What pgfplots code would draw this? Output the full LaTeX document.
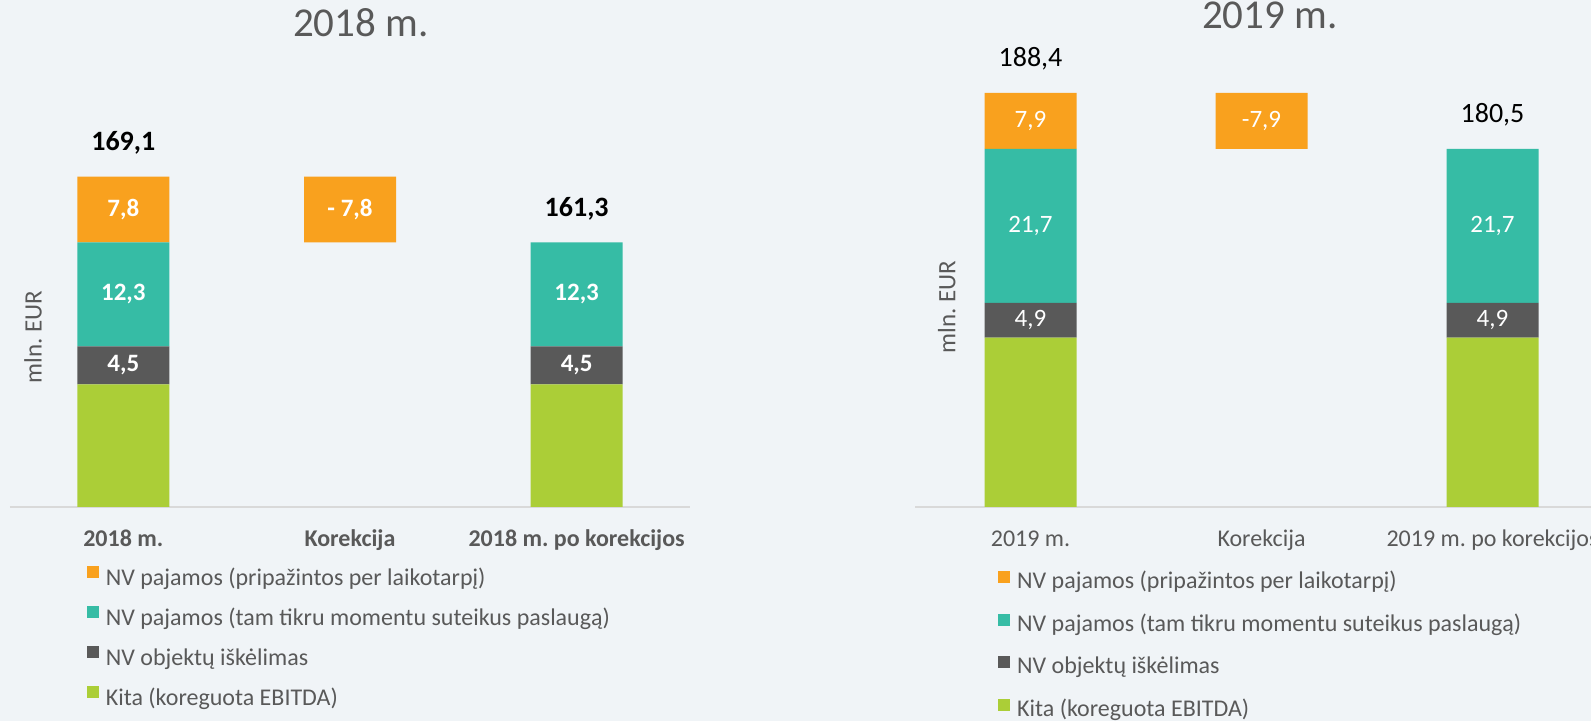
\documentclass[border=0pt]{standalone}
\usepackage{pgfplots}
\pgfplotsset{compat=1.18}
\usepackage{fontspec}
\setmainfont{Carlito}
\frenchspacing

\definecolor{bg}{HTML}{F0F4F7}
\definecolor{cOrange}{HTML}{F9A11E}
\definecolor{cTeal}{HTML}{36BCA5}
\definecolor{cDark}{HTML}{595959}
\definecolor{cGreen}{HTML}{ABCE37}
\definecolor{axgray}{HTML}{D9D9D9}
\definecolor{txt}{HTML}{595959}

% 1 px of the reference = 0.5pt
\pgfplotsset{
  panel/.style={
    anchor=south west, scale only axis,
    height=223.5pt, xmin=-0.5, xmax=2.5, ymin=130,
  },
  bars/.style={
    panel, ybar stacked, bar width=46pt,
    axis x line*=bottom, axis y line=none,
    x axis line style={draw=axgray, line width=1pt},
    xtick={0,1,2}, major tick length=0pt, xtick style={draw=none},
    xticklabel style={text=txt, anchor=base, yshift=-20pt},
    title style={text=txt, font=\fontsize{20.5}{24}\selectfont, anchor=center},
    legend cell align=left,
    reverse legend,
    legend image code/.code={\fill[##1,draw=none] (0pt,-0.5pt) rectangle (6pt,5.5pt);},
    legend style={draw=none, fill=none, anchor=north west, inner sep=0pt,
      outer sep=0pt, column sep=3.5pt, row sep=0pt,
      font=\fontsize{12}{14}\selectfont, text=txt,
      nodes={inner sep=0pt, text height=14pt}},
  },
  labels/.style={panel, hide axis, clip=false},
  seglabel/.style={draw=none, mark=none, point meta=explicit symbolic,
    nodes near coords, nodes near coords style={anchor=center, text=white}},
  totlabel/.style={draw=none, mark=none, point meta=explicit symbolic,
    nodes near coords, nodes near coords style={anchor=center, text=black, yshift=17pt}},
}

\begin{document}
\begin{tikzpicture}
\path[fill=bg, use as bounding box] (0,0) rectangle (795.5pt,360.5pt);

% ---- 2018 ----
\begin{axis}[bars, at={(5pt,107pt)}, width=340pt, ymax=182.9,
  title={2018 m.}, title style={at={(0.516,1.056)}},
  xticklabels={2018 m., Korekcija, 2018 m. po korekcijos},
  xticklabel style={font=\fontsize{12}{14}\selectfont\bfseries},
  legend style={at={(0.113,-0.112)}, nodes={text depth=6pt}}]
\addplot[fill=cGreen, draw=none] coordinates {(0,144.5) (1,0) (2,144.5)};
\addplot[fill=none, draw=none, forget plot] coordinates {(0,0) (1,161.3) (2,0)};
\addplot[fill=cDark, draw=none] coordinates {(0,4.5) (1,0) (2,4.5)};
\addplot[fill=cTeal, draw=none] coordinates {(0,12.3) (1,0) (2,12.3)};
\addplot[fill=cOrange, draw=none] coordinates {(0,7.8) (1,7.8) (2,0)};
\legend{Kita (koreguota EBITDA), NV objektų iškėlimas, NV pajamos (tam tikru momentu suteikus paslaugą), NV pajamos (pripažintos per laikotarpį)}
\node[rotate=90, text=txt, font=\fontsize{12.5}{15}\selectfont] at (axis description cs:0.034,0.38) {mln. EUR};
\end{axis}
\begin{axis}[labels, at={(5pt,107pt)}, width=340pt, ymax=182.9]
\addplot[seglabel, nodes near coords style={font=\fontsize{12.5}{15}\selectfont\bfseries}] coordinates {
  (0,146.75) [{4,5}] (0,155.15) [{12,3}] (0,165.2) [{7,8}]
  (1,165.2) [{- 7,8}]
  (2,146.75) [{4,5}] (2,155.15) [{12,3}]};
\addplot[totlabel, nodes near coords style={font=\fontsize{14}{16}\selectfont\bfseries}] coordinates {
  (0,169.1) [{169,1}] (2,161.3) [{161,3}]};
\end{axis}

% ---- 2019 ----
\begin{axis}[bars, at={(457.5pt,107pt)}, width=346.5pt, ymax=193.05,
  title={2019 m.}, title style={at={(0.512,1.072)}},
  xticklabels={2019 m., Korekcija, 2019 m. po korekcijos},
  xticklabel style={font=\fontsize{12}{14}\selectfont},
  legend style={at={(0.120,-0.120)}, nodes={text depth=7.3pt}}]
\addplot[fill=cGreen, draw=none] coordinates {(0,153.9) (1,0) (2,153.9)};
\addplot[fill=none, draw=none, forget plot] coordinates {(0,0) (1,180.5) (2,0)};
\addplot[fill=cDark, draw=none] coordinates {(0,4.9) (1,0) (2,4.9)};
\addplot[fill=cTeal, draw=none] coordinates {(0,21.7) (1,0) (2,21.7)};
\addplot[fill=cOrange, draw=none] coordinates {(0,7.9) (1,7.9) (2,0)};
\legend{Kita (koreguota EBITDA), NV objektų iškėlimas, NV pajamos (tam tikru momentu suteikus paslaugą), NV pajamos (pripažintos per laikotarpį)}
\node[rotate=90, text=txt, font=\fontsize{12.5}{15}\selectfont] at (axis description cs:0.046,0.447) {mln. EUR};
\end{axis}
\begin{axis}[labels, at={(457.5pt,107pt)}, width=346.5pt, ymax=193.05]
\addplot[seglabel, nodes near coords style={font=\fontsize{12.5}{15}\selectfont}] coordinates {
  (0,156.35) [{4,9}] (0,169.65) [{21,7}] (0,184.45) [{7,9}]
  (1,184.45) [{-7,9}]
  (2,156.35) [{4,9}] (2,169.65) [{21,7}]};
\addplot[totlabel, nodes near coords style={font=\fontsize{14}{16}\selectfont}] coordinates {
  (0,188.4) [{188,4}] (2,180.5) [{180,5}]};
\end{axis}
\end{tikzpicture}
\end{document}
